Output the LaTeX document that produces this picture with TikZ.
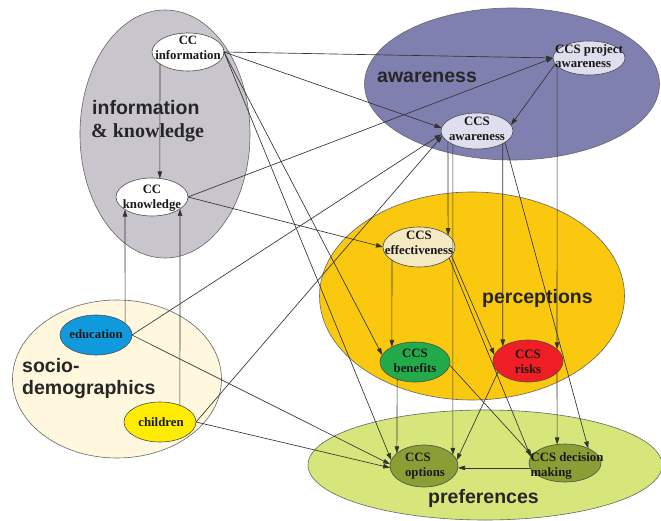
\documentclass[tikz,border=0pt]{standalone}
\usepackage{fontspec}
\setmainfont{Liberation Serif}
\setsansfont{Liberation Sans}
\usetikzlibrary{arrows.meta,shapes.geometric}
\definecolor{infogray}{RGB}{201,197,205}
\definecolor{awblue}{RGB}{128,128,176}
\definecolor{percgold}{RGB}{250,200,15}
\definecolor{soccream}{RGB}{255,248,222}
\definecolor{prefgreen}{RGB}{214,230,122}
\definecolor{lav}{RGB}{222,222,238}
\definecolor{effcream}{RGB}{245,233,196}
\definecolor{bengreen}{RGB}{34,170,75}
\definecolor{riskred}{RGB}{238,30,36}
\definecolor{edublue}{RGB}{16,154,222}
\definecolor{childyellow}{RGB}{255,236,0}
\definecolor{olivegreen}{RGB}{138,158,54}
\newfontfamily\knowfont{Liberation Serif}
\begin{document}
\begin{tikzpicture}[x=1pt,y=-1pt,
  region/.style={ellipse, draw=black!60, line width=0.6pt, inner sep=0pt, outer sep=0pt},
  sm/.style={ellipse, draw=black!70, line width=0.6pt, inner sep=0pt, outer sep=0pt, minimum width=72pt, minimum height=38pt},
  stxt/.style={font=\bfseries\fontsize{12.8}{14.5}\selectfont, text=black!90, inner sep=0pt, align=center},
  btxt/.style={font=\sffamily\bfseries\fontsize{19.5}{23}\selectfont, text=black!85, inner sep=0pt, anchor=base west},
  serifbig/.style={font=\knowfont\bfseries\fontsize{20}{23}\selectfont, text=black!85, inner sep=0pt, anchor=base west},
  link/.style={draw=black!80, line width=0.65pt, -{Triangle[length=7pt,width=4.5pt]}}
]
\useasboundingbox (0,0) rectangle (661,521);
\fill[white] (0,0) rectangle (661,521);

% regions
\node[region, fill=infogray, minimum width=170pt, minimum height=248pt] (infoR) at (165,134) {};
\node[region, fill=awblue, minimum width=295pt, minimum height=152pt] (awR) at (512,84) {};
\node[region, fill=percgold, minimum width=305pt, minimum height=208pt] (percR) at (472,296) {};
\node[region, fill=soccream, minimum width=209pt, minimum height=158pt] (socR) at (117,379) {};
\node[region, fill=prefgreen, minimum width=354pt, minimum height=110pt] (prefR) at (485,465) {};

% region labels
\node[btxt] (lInfoA) at (92,115) {information};
\node[serifbig] (lInfoB) at (91,138) {\& knowledge};
\node[btxt] (lAw) at (377,83) {awareness};
\node[btxt] (lPerc) at (482,304) {perceptions};
\node[btxt] (lSocA) at (22,372) {socio-};
\node[btxt] (lSocB) at (22,394) {demographics};
\node[btxt] (lPref) at (428,503) {preferences};

% small nodes
\node[sm, fill=white] (info) at (188,52) {};
\node[sm, fill=white] (know) at (152,197) {};
\node[sm, fill=lav, minimum height=34pt] (projaw) at (589,58) {};
\node[sm, fill=lav, minimum height=36pt] (aw) at (477,131) {};
\node[sm, fill=effcream, minimum height=40pt] (eff) at (419,247) {};
\node[sm, fill=bengreen, minimum width=70pt, minimum height=40pt] (ben) at (415,362) {};
\node[sm, fill=riskred, minimum width=70pt, minimum height=42pt] (risks) at (528,361) {};
\node[sm, fill=edublue, minimum height=40pt] (edu) at (96,335) {};
\node[sm, fill=childyellow, minimum height=40pt] (child) at (160,422) {};
\node[sm, fill=olivegreen, minimum width=68pt, minimum height=42pt] (opt) at (424,466) {};
\node[sm, fill=olivegreen] (dm) at (565,463) {};

% node texts
\node[stxt] (infoT) at (188,48) {CC\\information};
\node[stxt] (knowT) at (152,198) {CC\\knowledge};
\node[stxt, align=left] (projawT) at (589,56) {CCS project\\awareness};
\node[stxt] (awT) at (477,129) {CCS\\awareness};
\node[stxt] (effT) at (419,243) {CCS\\effectiveness};
\node[stxt] (benT) at (415,361) {CCS\\benefits};
\node[stxt] (risksT) at (528,362) {CCS\\risks};
\node[stxt] (eduT) at (96,334) {education};
\node[stxt] (childT) at (161,422) {children};
\node[stxt, align=left] (optT) at (425,466) {CCS\\options};
\node[stxt, align=left] (dmT) at (567,466) {CCS decision\\making};

% connectors
\draw[link] (info.east) -- (projaw.west);
\draw[link] (info.east) -- (aw.175);
\draw[link] (info.203) -- (know.67);
\draw[link] (info.east) -- (ben.168);
\draw[link] (info.east) -- (opt.170);
\draw[link] (know.east) -- (projaw.west);
\draw[link] (know.east) -- (eff.west);
\draw[link] (edu.22) -- (know.205);
\draw[link] (child.40) -- (know.337);
\draw[link] (edu.east) -- (aw.185);
\draw[link] (child.east) -- (aw.188);
\draw[link] (edu.east) -- (opt.177);
\draw[link] (child.east) -- (opt.183);
\draw[link] (projaw.190) -- (aw.10);
\draw[link] (projaw.194) -- (risks.22);
\draw[link] (aw.200) -- (eff.22);
\draw[link] (aw.209) -- (opt.21);
\draw[link] (aw.334) -- (risks.150);
\draw[link] (aw.338) -- (dm.32);
\draw[link] (eff.206) -- (ben.147);
\draw[link] (eff.345) -- (risks.170);
\draw[link] (eff.340) -- (dm.170);
\draw[link] (ben.224) -- (opt.155);
\draw[link] (ben.355) -- (dm.167);
\draw[link] (risks.200) -- (opt.10);
\draw[link] (risks.338) -- (dm.113);
\draw[link] (dm.188) -- (dm.188 -| opt.east);
\end{tikzpicture}
\end{document}
